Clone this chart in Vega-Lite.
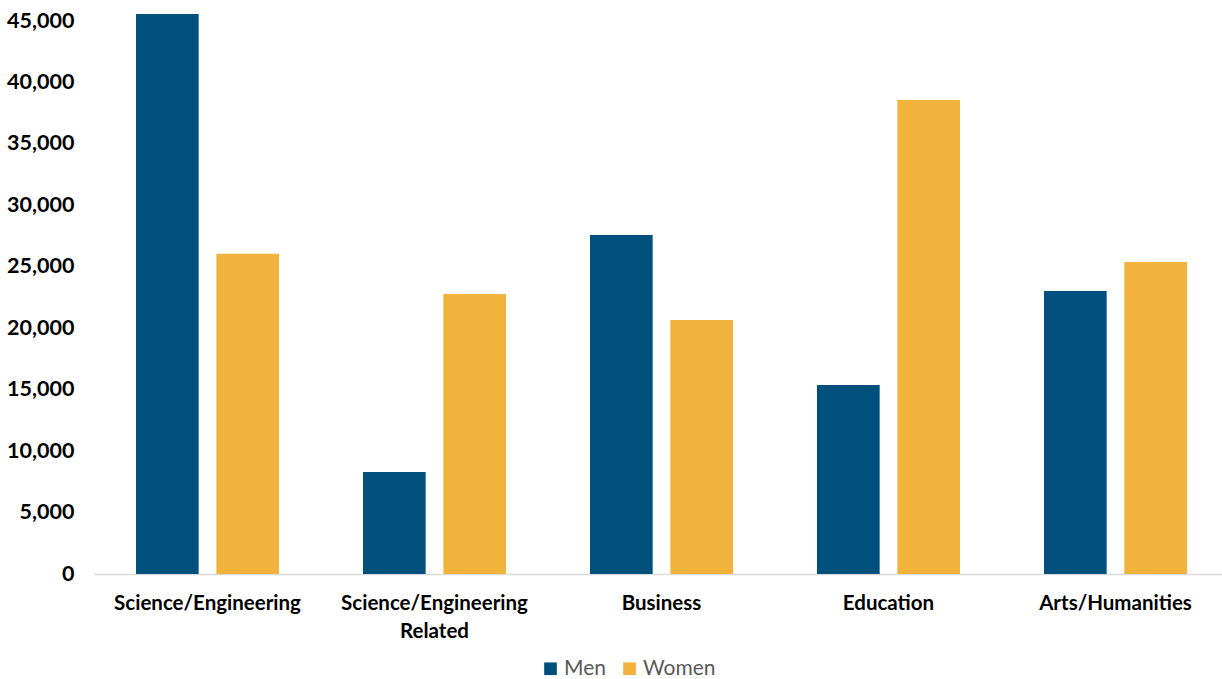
{
  "$schema": "https://vega.github.io/schema/vega-lite/v6.json",
  "width": 1135,
  "height": 553,
  "autosize": {"type": "none"},
  "padding": {"left": 94, "top": 21, "right": 0, "bottom": 105},
  "background": "white",
  "config": {"view": {"stroke": null}, "font": "Lato"},
  "data": {
    "values": [
      {"field": "Science/Engineering", "gender": "Men", "value": 45570},
      {"field": "Science/Engineering", "gender": "Women", "value": 26050},
      {"field": "Science/Engineering Related", "gender": "Men", "value": 8300},
      {"field": "Science/Engineering Related", "gender": "Women", "value": 22780},
      {"field": "Business", "gender": "Men", "value": 27590},
      {"field": "Business", "gender": "Women", "value": 20670},
      {"field": "Education", "gender": "Men", "value": 15380},
      {"field": "Education", "gender": "Women", "value": 38570},
      {"field": "Arts/Humanities", "gender": "Men", "value": 23030},
      {"field": "Arts/Humanities", "gender": "Women", "value": 25390}
    ]
  },
  "mark": {"type": "bar"},
  "encoding": {
    "x": {
      "field": "field",
      "type": "nominal",
      "sort": null,
      "scale": {"paddingInner": 0.37, "paddingOuter": 0.185},
      "axis": {
        "title": null,
        "labelAngle": 0,
        "labelFont": "Lato",
        "labelFontSize": 20.5,
        "labelFontWeight": "bold",
        "labelColor": "#000000",
        "labelPadding": 19,
        "labelLineHeight": 28,
        "labelLimit": 0,
        "ticks": false,
        "domainColor": "#D9D9D9",
        "domainWidth": 1.5,
        "labelExpr": "datum.value == 'Science/Engineering Related' ? ['Science/Engineering', 'Related'] : datum.value"
      }
    },
    "xOffset": {
      "field": "gender",
      "type": "nominal",
      "scale": {"paddingInner": 0.22, "paddingOuter": 0}
    },
    "y": {
      "field": "value",
      "type": "quantitative",
      "scale": {"domain": [0, 45000], "nice": false},
      "axis": {
        "title": null,
        "values": [0, 5000, 10000, 15000, 20000, 25000, 30000, 35000, 40000, 45000],
        "format": ",d",
        "grid": false,
        "domain": false,
        "ticks": false,
        "labelFont": "Lato",
        "labelFontSize": 21.5,
        "labelFontWeight": "bold",
        "labelColor": "#000000",
        "labelPadding": 20
      }
    },
    "color": {
      "field": "gender",
      "type": "nominal",
      "scale": {"domain": ["Men", "Women"], "range": ["#00507D", "#F2B33D"]},
      "legend": {
        "title": null,
        "orient": "none",
        "direction": "horizontal",
        "legendX": 446,
        "legendY": 637,
        "symbolType": "square",
        "symbolSize": 160,
        "symbolStrokeWidth": 0,
        "labelFont": "Lato",
        "labelFontSize": 21,
        "labelColor": "#595959",
        "columnPadding": 13,
        "labelOffset": 3
      }
    }
  }
}
